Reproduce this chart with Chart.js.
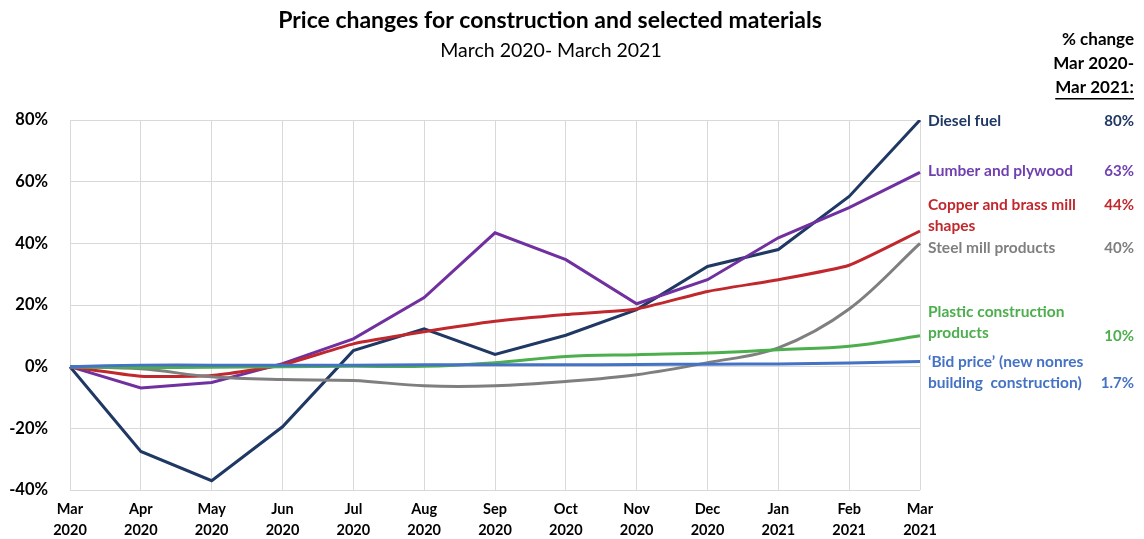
<!DOCTYPE html>
<html>
<head>
<meta charset="utf-8">
<script src="https://cdn.jsdelivr.net/npm/chart.js@4"></script>
<style>
html,body{margin:0;padding:0;background:#fff;}
#wrap{position:relative;width:1144px;height:539px;}
</style>
</head>
<body>
<div id="wrap"><canvas id="c" width="1144" height="539"></canvas></div>
<script>
const categories = [['Mar','2020'],['Apr','2020'],['May','2020'],['Jun','2020'],['Jul','2020'],['Aug','2020'],['Sep','2020'],['Oct','2020'],['Nov','2020'],['Dec','2020'],['Jan','2021'],['Feb','2021'],['Mar','2021']];
const dieselFuel   = [0, -27.5, -37, -19.5, 5.2, 12.3, 4, 10.2, 18.5, 32.5, 38, 55.2, 80];
const lumberPlywood= [0, -6.9, -5.1, 1, 9, 22.4, 43.4, 34.7, 20.4, 28.2, 41.8, 51.6, 63];
const copperBrass  = [0, -3.1, -2.9, 0.6, 7.4, 11.3, 14.7, 16.9, 18.7, 24.4, 28.2, 32.9, 44];
const steelMill    = [0, -0.7, -3.3, -4.2, -4.5, -6.2, -6.2, -4.8, -2.6, 1.3, 6.1, 18.7, 40];
const plasticConstr= [0, -0.3, -0.2, 0, 0.1, 0.1, 1.3, 3.3, 3.9, 4.4, 5.5, 6.6, 10];
const bidPrice     = [0, 0.5, 0.5, 0.5, 0.5, 0.6, 0.6, 0.6, 0.7, 0.8, 0.9, 1.2, 1.7];
const yTicks = [-40, -20, 0, 20, 40, 60, 80];
const finalLabels = ['80%', '63%', '44%', '40%', '10%', '1.7%'];
const seriesNames = [['Diesel fuel'], ['Lumber and plywood'], ['Copper and brass mill','shapes'], ['Steel mill products'], ['Plastic construction','products'], ['\u2018Bid price\u2019 (new nonres','building  construction)']];

const FONT = 'Lato, "Open Sans", sans-serif';
const colors = ['#1f3864', '#7030a0', '#c0282d', '#7f7f7f', '#4cae4c', '#4472c4'];
const labelColors = ['#1f3864', '#7040b0', '#c0282d', '#7f7f7f', '#4cae4c', '#4472c4'];
// label offsets (px) relative to each series' final point
const nameOffsets = [1, -1, -26, 5, -24, 1];
const pctOffsets = [1, -1, -26, 5, 0, 22];

const dataSets = [dieselFuel, lumberPlywood, copperBrass, steelMill, plasticConstr, bidPrice];
const tensions = [0, 0, 0.15, 0.35, 0.35, 0.2];

const annot = {
  id: 'annot',
  afterDraw(chart) {
    const ctx = chart.ctx;
    const ys = chart.scales.y;
    const xs = chart.scales.x;
    ctx.save();
    ctx.fillStyle = '#000';
    ctx.textAlign = 'center';
    ctx.textBaseline = 'middle';
    ctx.font = 'bold 23px ' + FONT;
    ctx.fillText('Price changes for construction and selected materials', 550, 21);
    ctx.font = '19.5px ' + FONT;
    ctx.fillText('March 2020- March 2021', 551, 51);
    ctx.textAlign = 'right';
    ctx.font = 'bold 17px ' + FONT;
    const hx = 1134;
    ctx.fillText('% change', hx, 40);
    ctx.fillText('Mar 2020-', hx, 64);
    ctx.fillText('Mar 2021:', hx, 88);
    const w = ctx.measureText('Mar 2021:').width;
    ctx.fillRect(hx - w, 98, w, 1.5);
    const lx = xs.right + 8;
    dataSets.forEach((d, i) => {
      const y0 = ys.getPixelForValue(d[d.length - 1]);
      ctx.fillStyle = labelColors[i];
      ctx.textAlign = 'left';
      ctx.font = 'bold 15.5px ' + FONT;
      seriesNames[i].forEach((t, k) => {
        ctx.fillText(t, lx, y0 + nameOffsets[i] + k * 21);
      });
      ctx.font = 'bold 15px ' + FONT;
      ctx.textAlign = 'right';
      ctx.fillText(finalLabels[i], hx, y0 + pctOffsets[i]);
    });
    ctx.restore();
  }
};

new Chart(document.getElementById('c'), {
  type: 'line',
  data: {
    labels: categories,
    datasets: dataSets.map((d, i) => ({
      label: seriesNames[i].join(' '),
      data: d,
      borderColor: colors[i],
      backgroundColor: colors[i],
      borderWidth: 3,
      pointRadius: 0,
      tension: tensions[i],
      fill: false
    })).reverse()
  },
  options: {
    responsive: false,
    animation: false,
    layout: { padding: { top: 120, right: 224, bottom: 0, left: 0 } },
    plugins: { legend: { display: false }, title: { display: false }, tooltip: { enabled: false } },
    scales: {
      x: {
        afterFit(s) { s.height = 49; },
        grid: { color: '#d9d9d9', lineWidth: 1, drawTicks: false },
        border: { display: false },
        ticks: { color: '#000', font: { family: FONT, weight: 'bold', size: 14.5, lineHeight: 1.5 }, padding: 8, maxRotation: 0, autoSkip: false }
      },
      y: {
        min: -40, max: 80,
        afterFit(s) { s.width = 70; },
        afterBuildTicks(s) { s.ticks = yTicks.map(v => ({ value: v })); },
        grid: { color: '#d9d9d9', lineWidth: 1, drawTicks: false },
        border: { display: false },
        ticks: { color: '#000', font: { family: FONT, weight: 'bold', size: 16.5 }, padding: 22, callback: v => v + '%' }
      }
    }
  },
  plugins: [annot]
});
</script>
</body>
</html>
